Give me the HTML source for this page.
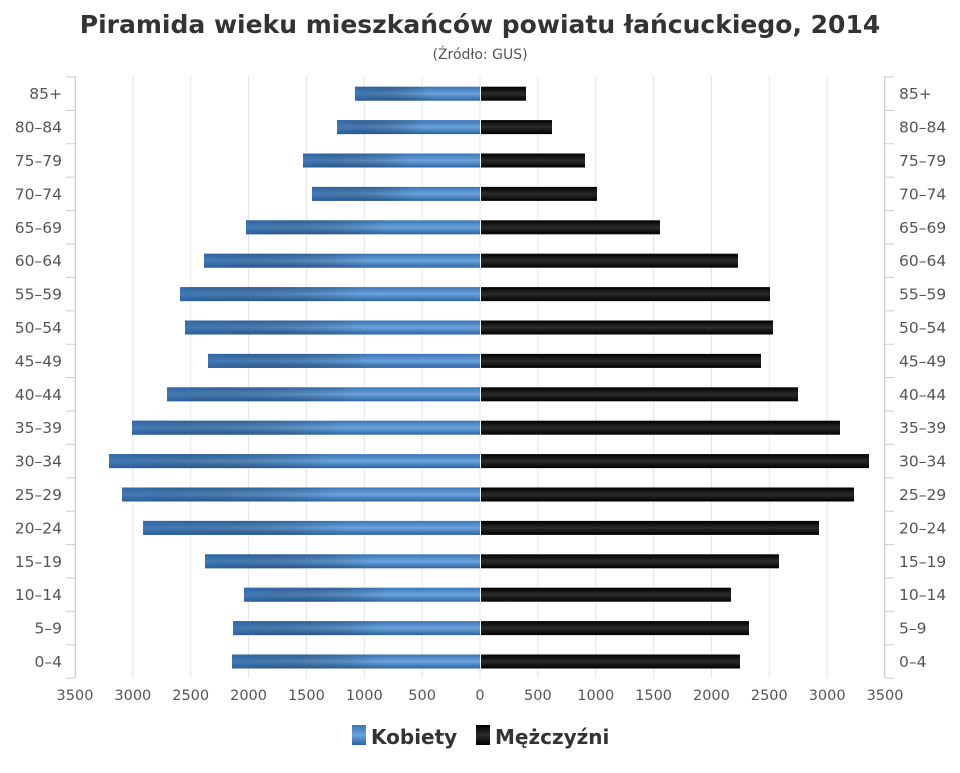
<!DOCTYPE html>
<html><head><meta charset="utf-8"><style>
body{margin:0;background:#fff;width:960px;height:768px;overflow:hidden}
svg text{font-family:"DejaVu Sans","Liberation Sans",sans-serif}
</style></head><body>
<svg id="s" width="960" height="768" xmlns="http://www.w3.org/2000/svg">
<defs>
<linearGradient id="bl" x1="0" y1="0" x2="0" y2="1">
<stop offset="0" stop-color="#3a75b5"/><stop offset="0.5" stop-color="#6aa3dc"/><stop offset="1" stop-color="#2c64a3"/></linearGradient>
<linearGradient id="bh" x1="0" y1="0" x2="1" y2="0">
<stop offset="0" stop-color="#2a5f9e" stop-opacity="0.6"/><stop offset="0.6" stop-color="#000" stop-opacity="0"/></linearGradient>
<linearGradient id="bk" x1="0" y1="0" x2="0" y2="1">
<stop offset="0" stop-color="#000"/><stop offset="0.5" stop-color="#2b2b2b"/><stop offset="1" stop-color="#000"/></linearGradient>
</defs>
<text x="480" y="33" text-anchor="middle" font-size="25" font-weight="bold" fill="#333">Piramida wieku mieszkańców powiatu łańcuckiego, 2014</text>
<text x="480" y="59" text-anchor="middle" font-size="14" fill="#555">(Źródło: GUS)</text>
<g id="g"></g>
<rect x="352" y="725" width="14" height="20" fill="url(#bl)"/>
<text x="371" y="744" font-size="20" font-weight="bold" fill="#333">Kobiety</text>
<rect x="476" y="725" width="14" height="20" fill="url(#bk)"/>
<text x="495" y="744" font-size="20" font-weight="bold" fill="#333">Mężczyźni</text>
</svg>
<script>
var g=document.getElementById('g'),h='';
var labs=['85+','80-84','75-79','70-74','65-69','60-64','55-59','50-54','45-49','40-44','35-39','30-34','25-29','20-24','15-19','10-14','5-9','0-4'];
var L=[355,337,303,312,246,204,180,185,208,167,132,109,122,143,205,244,233,232];
var R=[526,552,585,597,660,738,770,773,761,798,840,869,854,819,779,731,749,740];
var x0=480,k=57.86;
for(var i=1;i<=7;i++){h+='<line x1="'+(x0-i*k)+'" y1="76" x2="'+(x0-i*k)+'" y2="678" stroke="#e4e4e4"/>';h+='<line x1="'+(x0+i*k)+'" y1="76" x2="'+(x0+i*k)+'" y2="678" stroke="#e4e4e4"/>';}
h+='<line x1="'+x0+'" y1="76" x2="'+x0+'" y2="678" stroke="#e4e4e4"/>';
for(var i=-7;i<=7;i++){h+='<text x="'+(x0+i*k)+'" y="700" text-anchor="middle" font-size="14.5" fill="#555">'+Math.abs(i*500)+'</text>';}
h+='<line x1="75.5" y1="76" x2="75.5" y2="678" stroke="#ccc"/><line x1="884.5" y1="76" x2="884.5" y2="678" stroke="#ccc"/>';
var st=33.4,t0=77;
for(var j=0;j<=18;j++){var y=t0+j*st;h+='<line x1="66" y1="'+y+'" x2="75" y2="'+y+'" stroke="#ccc"/><line x1="885" y1="'+y+'" x2="894" y2="'+y+'" stroke="#ccc"/>';}
for(var j=0;j<18;j++){var c=t0+(j+0.5)*st;
h+='<text x="62" y="'+(c+5.5)+'" text-anchor="end" font-size="15.5" fill="#555">'+labs[j].replace('-','–')+'</text>';
h+='<text x="899" y="'+(c+5.5)+'" font-size="15.5" fill="#555">'+labs[j].replace('-','–')+'</text>';
h+='<rect x="'+L[j]+'" y="'+(c-7)+'" width="'+(x0-L[j])+'" height="14" fill="url(#bl)"/>';
h+='<rect x="'+L[j]+'" y="'+(c-7)+'" width="'+(x0-L[j])+'" height="14" fill="url(#bh)"/>';
h+='<rect x="'+(x0+1)+'" y="'+(c-7)+'" width="'+(R[j]-x0-1)+'" height="14" fill="url(#bk)"/>';}
g.innerHTML=h;
</script>
</body></html>
